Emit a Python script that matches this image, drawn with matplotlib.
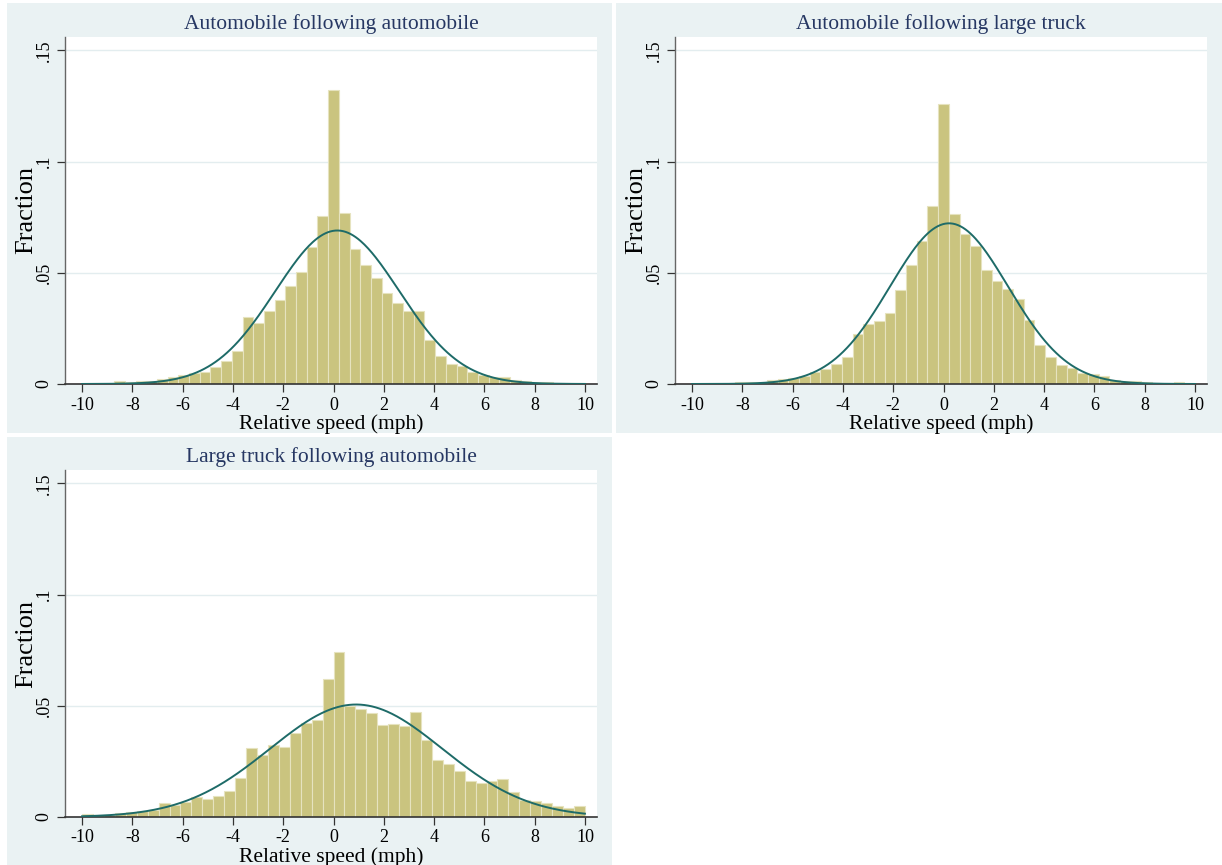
import numpy as np
import matplotlib
matplotlib.use("Agg")
import matplotlib.pyplot as plt
from matplotlib.patches import Rectangle

plt.rcParams['font.family'] = ['Liberation Serif', 'DejaVu Serif']

# histogram fractions (bins span -10..10)
auto_auto = [0.0004, 0.0003, 0.0004, 0.0015, 0.0008, 0.0012, 0.0013, 0.0024, 0.0032, 0.0041,
             0.0049, 0.0056, 0.0077, 0.0105, 0.0148, 0.0301, 0.0274, 0.0330, 0.0378, 0.0440,
             0.0503, 0.0616, 0.0754, 0.1321, 0.0770, 0.0606, 0.0537, 0.0478, 0.0410, 0.0364,
             0.0327, 0.0330, 0.0198, 0.0127, 0.0091, 0.0079, 0.0053, 0.0040, 0.0033, 0.0030,
             0.0018, 0.0015, 0.0010, 0.0008, 0.0006, 0.0006, 0.0005]
auto_truck = [0.0003, 0.0004, 0.0004, 0.0005, 0.0010, 0.0009, 0.0010, 0.0018, 0.0024, 0.0028,
              0.0037, 0.0052, 0.0067, 0.0091, 0.0120, 0.0225, 0.0269, 0.0285, 0.0319, 0.0422,
              0.0534, 0.0642, 0.0800, 0.1258, 0.0766, 0.0676, 0.0621, 0.0512, 0.0463, 0.0425,
              0.0382, 0.0288, 0.0176, 0.0120, 0.0084, 0.0074, 0.0049, 0.0045, 0.0034, 0.0019,
              0.0013, 0.0013, 0.0007, 0.0006, 0.0005, 0.0010, 0.0004]
truck_auto = [0.0012, 0.0009, 0.0010, 0.0018, 0.0021, 0.0025, 0.0033, 0.0063, 0.0055, 0.0066,
              0.0090, 0.0079, 0.0093, 0.0119, 0.0176, 0.0308, 0.0278, 0.0323, 0.0314, 0.0376,
              0.0421, 0.0434, 0.0620, 0.0741, 0.0497, 0.0487, 0.0466, 0.0415, 0.0418, 0.0409,
              0.0470, 0.0345, 0.0258, 0.0239, 0.0206, 0.0164, 0.0152, 0.0161, 0.0170, 0.0112,
              0.0075, 0.0072, 0.0064, 0.0049, 0.0042, 0.0049]

titles = ["Automobile following automobile", "Automobile following large truck",
          "Large truck following automobile"]
# normal overlay parameters (mean, sd)
norm_mean = [0.15, 0.22, 0.9]
norm_sd = [2.46, 2.35, 3.43]

xticks = list(range(-10, 11, 2))
yticks = [0, 0.05, 0.1, 0.15]
ytick_labels = ["0", ".05", ".1", ".15"]

W, H = 1222, 865
fig = plt.figure(figsize=(W / 100, H / 100), dpi=100)
fig.patch.set_facecolor('white')

bg = '#EAF2F3'
bar_col = '#CAC47F'
edge_col = '#E6E3BF'
line_col = '#1E6B68'
title_col = '#263763'

# panel background boxes and plot areas in pixels (left, top, right, bottom)
panels = [(7, 3, 612, 433), (616, 3, 1222, 433), (7, 437, 612, 865)]
plots = [(65, 37, 597, 384), (675, 37, 1207, 384), (65, 470, 597, 817)]
data = [auto_auto, auto_truck, truck_auto]

for i in range(3):
    pl, pt, pr, pb = panels[i]
    fig.add_artist(Rectangle((pl / W, 1 - pb / H), (pr - pl) / W, (pb - pt) / H,
                             transform=fig.transFigure, facecolor=bg, edgecolor='none', zorder=0))
    l, t, r, b = plots[i]
    ax = fig.add_axes([l / W, 1 - b / H, (r - l) / W, (b - t) / H])
    ax.set_facecolor('white')

    vals = np.array(data[i])
    edges = np.linspace(-10, 10, len(vals) + 1)
    w = edges[1] - edges[0]
    ax.bar(edges[:-1], vals, width=w, align='edge', color=bar_col,
           edgecolor=edge_col, linewidth=0.8, zorder=2)

    xs = np.linspace(-10, 10, 400)
    ys = w / (norm_sd[i] * np.sqrt(2 * np.pi)) * np.exp(-0.5 * ((xs - norm_mean[i]) / norm_sd[i]) ** 2)
    ax.plot(xs, ys, color=line_col, lw=1.4, zorder=3)

    ax.set_xlim(-10.68, 10.48)
    ax.set_ylim(0, 0.156)
    for g in yticks[1:]:
        ax.axhline(g, color='#E3EDEF', lw=1.0, zorder=1)

    ax.set_xticks(xticks)
    ax.set_xticklabels([str(v) for v in xticks], fontsize=13)
    ax.set_yticks(yticks)
    ax.set_yticklabels(ytick_labels, fontsize=13, rotation=90, va='center')
    ax.tick_params(axis='both', direction='out', length=6, width=0.9, colors='#333333',
                   labelcolor='black', pad=3)

    for s in ['top', 'right']:
        ax.spines[s].set_visible(False)
    ax.spines['left'].set_color('#666666')
    ax.spines['bottom'].set_color('#333333')
    ax.spines['left'].set_linewidth(1.0)
    ax.spines['bottom'].set_linewidth(1.2)

    ax.set_xlabel("Relative speed (mph)", fontsize=15.5)
    ax.xaxis.set_label_coords(0.5, -0.086)
    ax.set_ylabel("Fraction", fontsize=19)
    ax.yaxis.set_label_coords(-0.053, 0.5)
    ax.text(0.5, 1.036, titles[i], transform=ax.transAxes, ha='center', va='center',
            fontsize=15.5, color=title_col)

fig.savefig("out.png", dpi=100, facecolor='white')
